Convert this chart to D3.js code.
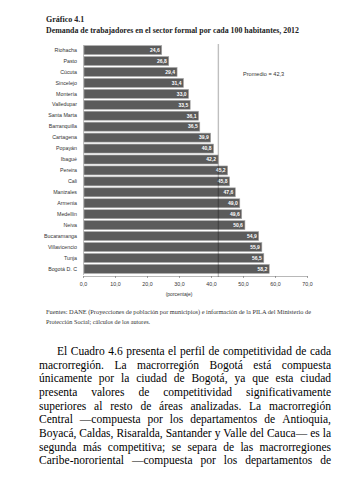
<!DOCTYPE html>
<html><head><meta charset="utf-8">
<script src="https://cdn.jsdelivr.net/npm/d3@7"></script>
<style>
html,body{margin:0;padding:0;background:#fff;}
svg{display:block;}
</style></head>
<body>
<svg id="c" width="360" height="480"></svg>
<script>
const categories = ["Riohacha","Pasto","Cúcuta","Sincelejo","Montería","Valledupar","Santa Marta","Barranquilla","Cartagena","Popayán","Ibagué","Pereira","Cali","Manizales","Armenia","Medellín","Neiva","Bucaramanga","Villavicencio","Tunja","Bogotá D. C"];
const values = [24.6,26.8,29.4,31.4,33.0,33.5,36.1,36.5,39.9,40.8,42.2,45.2,45.8,47.6,49.0,49.6,50.6,54.9,55.9,56.5,58.2];
const average = 42.3;
const tickValues = [0,10,20,30,40,50,60,70];
const titleLines = ["Gráfico 4.1","Demanda de trabajadores en el sector formal por cada 100 habitantes, 2012"];
const axisTitle = "(porcentaje)";
const sourceLines = ["Fuentes: DANE (Proyecciones de población por municipios) e información de la PILA del Ministerio de","Protección Social; cálculos de los autores."];
const bodyLines = [
 "El Cuadro 4.6 presenta el perfil de competitividad de cada",
 "macrorregión. La macrorregión Bogotá está compuesta",
 "únicamente por la ciudad de Bogotá, ya que esta ciudad",
 "presenta valores de competitividad significativamente",
 "superiores al resto de áreas analizadas. La macrorregión",
 "Central —compuesta por los departamentos de Antioquia,",
 "Boyacá, Caldas, Risaralda, Santander y Valle del Cauca— es la",
 "segunda más competitiva; se separa de las macrorregiones",
 "Caribe-nororiental —compuesta por los departamentos de"
];

const fmt = v => d3.format(".1f")(v).replace(".", ",");
const svg = d3.select("#c");
const serif = "'Liberation Serif','Times New Roman',serif";
const sans = "'Liberation Sans',Arial,sans-serif";

// Titles
svg.append("text").attr("x",46).attr("y",22).attr("font-family",serif).attr("font-weight","bold")
  .attr("font-size",8).attr("fill","#222").text(titleLines[0]);
svg.append("text").attr("x",46).attr("y",33).attr("font-family",serif).attr("font-weight","bold")
  .attr("font-size",8).attr("fill","#222").attr("textLength",253).attr("lengthAdjust","spacingAndGlyphs").text(titleLines[1]);

const x = d3.scaleLinear().domain([0,70]).range([83,307]);
const y = d3.scaleBand().domain(categories).range([44.5,274.5]).paddingInner(0.18).paddingOuter(0.1);

// Bars
svg.append("g").selectAll("rect").data(values).join("rect")
  .attr("x",x(0)+1).attr("y",(d,i)=>y(categories[i]))
  .attr("width",d=>x(d)-x(0)-1).attr("height",y.bandwidth())
  .attr("fill","#5b5b5b").attr("stroke","#a9a9a9").attr("stroke-width",0.6);

// Value labels
svg.append("g").selectAll("text").data(values).join("text")
  .attr("x",d=>x(d)-2).attr("y",(d,i)=>y(categories[i])+y.bandwidth()/2+1.8)
  .attr("text-anchor","end").attr("font-family",sans).attr("font-weight","bold")
  .attr("font-size",5).attr("fill","#fff").text(d=>fmt(d));

// Y axis
const yAxis = svg.append("g").attr("transform",`translate(${x(0)},0)`)
  .call(d3.axisLeft(y).tickSize(0).tickPadding(6));
yAxis.select(".domain").attr("stroke","#999").attr("stroke-width",0.6);
yAxis.selectAll("text").attr("font-family",sans).attr("font-size",5.3).attr("fill","#333");

// X axis
const xAxis = svg.append("g").attr("transform","translate(0,276)")
  .call(d3.axisBottom(x).tickValues(tickValues).tickFormat(fmt).tickSize(2).tickPadding(4).tickSizeOuter(0));
xAxis.select(".domain").attr("stroke","#888").attr("stroke-width",0.6);
xAxis.selectAll("line").attr("stroke","#666").attr("stroke-width",0.6);
xAxis.selectAll("text").attr("font-family",sans).attr("font-size",5.3).attr("fill","#333");

svg.append("text").attr("x",x(30)).attr("y",296).attr("text-anchor","middle")
  .attr("font-family",sans).attr("font-size",5).attr("fill","#333").text(axisTitle);

// Average line
svg.append("line").attr("x1",x(average)).attr("x2",x(average)).attr("y1",44).attr("y2",277)
  .attr("stroke","#000").attr("stroke-opacity",0.25).attr("stroke-width",1.4);
svg.append("text").attr("x",243).attr("y",76).attr("font-family",sans).attr("font-size",5.6)
  .attr("fill","#333").text("Promedio = " + fmt(average));

// Sources
svg.append("text").attr("x",46).attr("y",314).attr("font-family",serif).attr("font-size",6.2)
  .attr("fill","#333").attr("textLength",265).attr("lengthAdjust","spacingAndGlyphs").text(sourceLines[0]);
svg.append("text").attr("x",46).attr("y",324).attr("font-family",serif).attr("font-size",6.2)
  .attr("fill","#333").text(sourceLines[1]);

// Body text, justified
const bodyLeft = 39, bodyRight = 331, indent = 18;
let fs = 13.5;
const measure = (s, size) => {
  const t = svg.append("text").attr("font-family",serif).attr("font-size",size).text(s);
  const w = t.node().getComputedTextLength(); t.remove(); return w;
};
while (fs > 9) {
  const ok = bodyLines.every((l,i)=> measure(l,fs) <= (bodyRight - bodyLeft - (i===0?indent:0)));
  if (ok) break; fs -= 0.25;
}
const body = svg.append("g");
bodyLines.forEach((line,i)=>{
  const words = line.split(" ");
  const x0 = bodyLeft + (i===0?indent:0);
  const widths = words.map(w=>measure(w,fs));
  const total = d3.sum(widths);
  const gap = (bodyRight - x0 - total)/(words.length-1);
  let cx = x0;
  const by = 355 + i*13.65;
  words.forEach((w,j)=>{
    body.append("text").attr("x",cx).attr("y",by).attr("font-family",serif)
      .attr("font-size",fs).attr("fill","#000").text(w);
    cx += widths[j] + gap;
  });
});
</script>
</body></html>
